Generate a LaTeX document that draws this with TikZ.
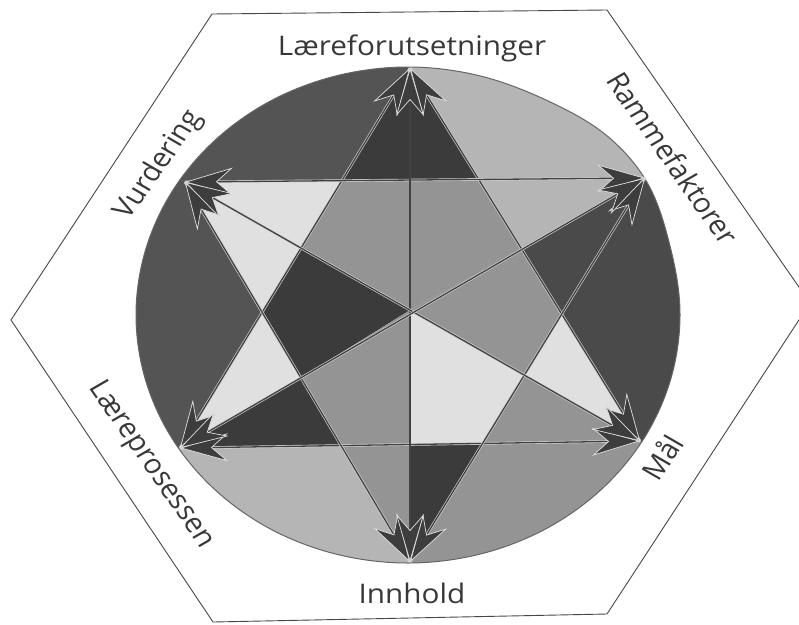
\documentclass[tikz,border=0pt]{standalone}
\usepackage{fontspec}
\setmainfont{Open Sans}
\usetikzlibrary{arrows.meta,calc}
\colorlet{cdark}{black!67}
\colorlet{cdarkR}{black!71}
\colorlet{cdarker}{black!77}
\colorlet{cmid}{black!42}
\colorlet{clight}{black!29}
\colorlet{cpale}{black!12}
\tikzset{
  arrowhd/.tip={Stealth[length=48pt,width=28pt,inset=16pt,color=black!12,fill=black!76,line width=0.7pt]},
  conn/.style={draw=black!74, line width=1.3pt, arrowhd-arrowhd,
    preaction={draw=black!18, line width=2.6pt, -}},
  lbl/.style={font=\fontsize{27}{31}\selectfont, text=black!78, inner sep=0pt, xscale=1.1},
  hexline/.style={draw=black!72, line width=0.9pt},
  ovalline/.style={draw=black!60, line width=1pt}
}
\def\ovalpath{plot[smooth cycle, tension=0.6] coordinates {
 (680,315) (670.7,379.2) (643.6,439) (600.3,490.4) (544,529.8) (478.4,554.5)
 (408,563) (337.6,554.5) (272,529.8) (215.7,490.4) (172.4,439) (145.3,379.2)
 (136,315) (145.3,250.8) (172.4,191) (215.7,139.6) (272,100.2) (337.6,75.5)
 (408,67) (478.4,75.5) (546,100) (606,135) (648,184) (671,250)}}
\begin{document}
\begin{tikzpicture}[x=1pt,y=-1pt]
\useasboundingbox (0,0) rectangle (799,624);
\fill[white] (0,0) rectangle (799,624);
% hexagon frame
\draw[hexline] (212,14) -- (607,10) -- (810,303) -- (607,614) -- (213,622) -- (11,320) -- cycle;
% star vertices
\coordinate (T) at (410,68);
\coordinate (V) at (185,182);
\coordinate (R) at (645,178);
\coordinate (L) at (180,448);
\coordinate (M) at (640,441);
\coordinate (I) at (410,562);
\coordinate (C) at (intersection of T--I and V--M);
\coordinate (P1) at (intersection of T--L and V--R);
\coordinate (P2) at (intersection of T--M and V--R);
\coordinate (P3) at (intersection of T--L and V--I);
\coordinate (P4) at (intersection of L--M and V--I);
\coordinate (P5) at (intersection of L--M and R--I);
\coordinate (P6) at (intersection of T--M and R--I);
\coordinate (Qt) at (intersection of T--I and V--R);
\coordinate (Qv) at (intersection of V--M and T--L);
\coordinate (Qr) at (intersection of R--L and T--M);
\coordinate (Ql) at (intersection of R--L and V--I);
\coordinate (Qm) at (intersection of V--M and R--I);
\coordinate (Qb) at (intersection of T--I and L--M);
\foreach \p in {T,V,R,L,M,I} \coordinate (far\p) at ($(C)!3!(\p)$);
\begin{scope}
\clip \ovalpath;
% outer regions
\fill[cdark]  (V)--(P1)--(T)--(farT)--(farV)--cycle;
\fill[clight] (T)--(P2)--(R)--(farR)--(farT)--cycle;
\fill[cdarkR] (R)--(P6)--(M)--(farM)--(farR)--cycle;
\fill[cmid]   (M)--(P5)--(I)--(farI)--(farM)--cycle;
\fill[clight] (I)--(P4)--(L)--(farL)--(farI)--cycle;
\fill[cdark]  (L)--(P3)--(V)--(farV)--(farL)--cycle;
% star tips
\fill[cdarker] (T)--(P1)--(P2)--cycle;
\fill[cpale]   (V)--(P1)--(P3)--cycle;
\fill[clight]  (R)--(P2)--(Qr)--cycle;
\fill[cdarkR]  (R)--(Qr)--(P6)--cycle;
\fill[cpale]   (L)--(P3)--(Ql)--cycle;
\fill[cdarker] (L)--(Ql)--(P4)--cycle;
\fill[cpale]   (M)--(P6)--(Qm)--cycle;
\fill[cmid]    (M)--(Qm)--(P5)--cycle;
\fill[cmid]    (I)--(P4)--(Qb)--cycle;
\fill[cdarker] (I)--(Qb)--(P5)--cycle;
% inner hexagon pieces
\fill[cmid]    (C)--(Qt)--(P1)--(Qv)--cycle;
\fill[cmid]    (C)--(Qt)--(P2)--(Qr)--cycle;
\fill[cdarker] (C)--(Qv)--(P3)--(Ql)--cycle;
\fill[cmid]    (C)--(Ql)--(P4)--(Qb)--cycle;
\fill[cpale]   (C)--(Qb)--(P5)--(Qm)--cycle;
\fill[cmid]    (C)--(Qm)--(P6)--(Qr)--cycle;
\end{scope}
\draw[ovalline] \ovalpath;
% connectors
\draw[conn] (T) -- (L);
\draw[conn] (L) -- (M);
\draw[conn] (M) -- (T);
\draw[conn] (V) -- (R);
\draw[conn] (R) -- (I);
\draw[conn] (I) -- (V);
\draw[conn] (T) -- (I);
\draw[conn] (V) -- (M);
\draw[conn] (R) -- (L);
% labels
\node[lbl, anchor=base] (lf) at (412,55) {Læreforutsetninger};
\node[lbl, anchor=base] (inn) at (412,603) {Innhold};
\node[lbl, rotate=57.5] (vu) at (159,165) {Vurdering};
\node[lbl, rotate=-57.5] (rf) at (673,158) {Rammefaktorer};
\node[lbl, rotate=-57.5] (lp) at (151,465) {Læreprosessen};
\node[lbl, rotate=57.5] (ml) at (662,457) {Mål};
\end{tikzpicture}
\end{document}
